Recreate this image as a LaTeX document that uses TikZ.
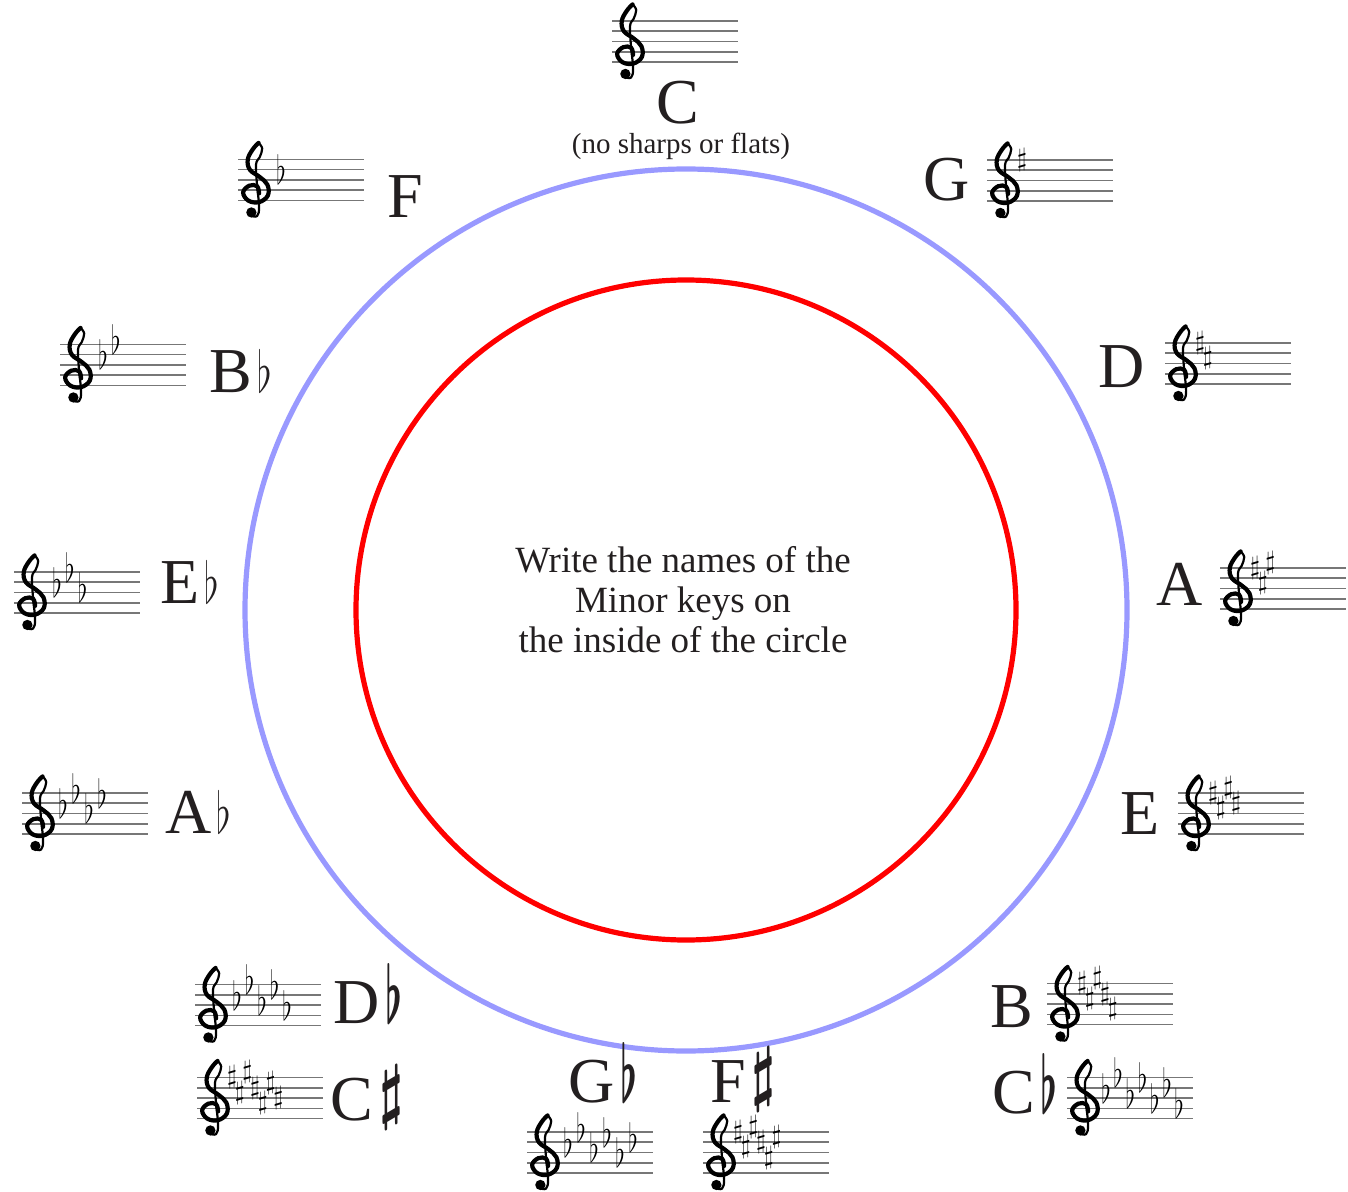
\RequirePackage{fix-cm}
\documentclass[tikz,border=0pt]{standalone}
\usepackage{fontspec}
\setmainfont{Liberation Serif}
\usepackage{amsmath}
\usepackage{bm}
\usepackage{graphicx}
\usetikzlibrary{calc}

\definecolor{ringblue}{HTML}{9999FF}
\definecolor{ringred}{HTML}{FF0000}
\definecolor{inkgray}{HTML}{231F20}
\definecolor{linegray}{HTML}{777777}

\newcommand{\thinflat}{\hspace{2.5pt}\scalebox{0.6}[0.9]{$\flat$}}
\newcommand{\boldflat}{\hspace{3pt}{\fontsize{40}{40}\selectfont\scalebox{0.48}[1]{$\bm{\flat}$}}}
\newcommand{\boldsharp}{\hspace{3pt}{\fontsize{36}{36}\selectfont\raisebox{2.5pt}{\scalebox{0.75}[1]{$\bm{\sharp}$}}}}
\newcommand{\sigflat}{\scalebox{0.62}[1]{$\flat$}}

\begin{document}
\begin{tikzpicture}[x=0.5pt, y=-0.5pt,
  staffline/.style={draw=linegray, line width=0.8pt},
  keyname/.style={anchor=base, inner sep=0pt, text=inkgray,
                  font=\fontsize{32}{32}\selectfont},
  shp/.style={inner sep=0pt, anchor=center, font=\fontsize{13}{13}\selectfont},
  flt/.style={inner sep=0pt, anchor=base, font=\fontsize{20}{20}\selectfont},
  ring/.style={line width=2.6pt},
  clef/.pic={
    \begin{scope}[x=5.15pt, y=5.15pt]
      \draw[line width=2.1pt, line cap=round] plot[smooth, tension=0.65] coordinates
        {(0.35,-0.3) (0.15,0.4) (-0.6,0.45) (-1.2,-0.2) (-0.7,-1.0) (0.35,-1.15)
         (1.2,-0.5) (1.15,0.55) (0.4,1.3) (-0.55,2.0) (-0.75,3.0) (-0.25,4.0) (0.3,4.6)};
      \draw[line width=1.1pt, line cap=round] plot[smooth, tension=0.65] coordinates
        {(0.3,4.6) (0.65,4.05) (0.4,3.2) (0.05,2.5) (0.15,0.5) (0.35,-1.6) (0.15,-2.5) (-0.45,-2.45)};
      \fill (-0.4,-2.15) circle[radius=0.5];
    \end{scope}
  },
  staff/.pic={
    \foreach \k in {-2,...,2}
      \draw[staffline] (0,10.3*\k) -- (126,10.3*\k);
    \pic at (17.5,10.3) {clef};
  }
]
\useasboundingbox (0,0) rectangle (1348,1192);

% Rings
\coordinate (ctr) at (686,610);
\draw[ring, ringblue] (ctr) circle[radius=441];
\draw[ring, ringred] (ctr) circle[radius=330];

% Centre text
\node[align=center, text=inkgray, font=\fontsize{18.5}{20}\selectfont] (msg) at (683,600)
  {Write the names of the\\Minor keys on\\the inside of the circle};

% C major
\pic (stC) at (612,41.5) {staff};
\node[keyname] (kC) at (678,124) {C};
\node[anchor=base, text=inkgray, font=\fontsize{14.5}{14.5}\selectfont] (nosf) at (681,154)
  {(no sharps or flats)};

% Sharp keys
\begin{scope}[shift={(987,180.5)}]
  \pic (stG) {staff};
  \foreach \s [count=\i from 0] in {4}
    \node[shp] (shG\i) at (35+7.7*\i, -5.15*\s) {$\sharp$};
\end{scope}
\node[keyname] (kG) at (947,201) {G};

\begin{scope}[shift={(1165,363.5)}]
  \pic (stD) {staff};
  \foreach \s [count=\i from 0] in {4,1}
    \node[shp] (shD\i) at (35+7.7*\i, -5.15*\s) {$\sharp$};
\end{scope}
\node[keyname] (kD) at (1122,387) {D};

\begin{scope}[shift={(1220,588.5)}]
  \pic (stA) {staff};
  \foreach \s [count=\i from 0] in {4,1,5}
    \node[shp] (shA\i) at (35+7.7*\i, -5.15*\s) {$\sharp$};
\end{scope}
\node[keyname] (kA) at (1180,605) {A};

\begin{scope}[shift={(1178,813.5)}]
  \pic (stE) {staff};
  \foreach \s [count=\i from 0] in {4,1,5,2}
    \node[shp] (shE\i) at (35+7.7*\i, -5.15*\s) {$\sharp$};
\end{scope}
\node[keyname] (kE) at (1140,834) {E};

\begin{scope}[shift={(1047,1004)}]
  \pic (stB) {staff};
  \foreach \s [count=\i from 0] in {4,1,5,2,-1}
    \node[shp] (shB\i) at (35+7.7*\i, -5.15*\s) {$\sharp$};
\end{scope}
\node[keyname] (kB) at (1012,1027) {B};

\begin{scope}[shift={(703,1152.5)}]
  \pic (stFs) {staff};
  \foreach \s [count=\i from 0] in {4,1,5,2,-1,3}
    \node[shp] (shFs\i) at (35+7.7*\i, -5.15*\s) {$\sharp$};
\end{scope}
\node[keyname] (kFs) at (743,1102) {F\boldsharp};

\begin{scope}[shift={(197,1098)}]
  \pic (stCs) {staff};
  \foreach \s [count=\i from 0] in {4,1,5,2,-1,3,0}
    \node[shp] (shCs\i) at (35+7.7*\i, -5.15*\s) {$\sharp$};
\end{scope}
\node[keyname] (kCs) at (367,1120) {C\boldsharp};

% Flat keys
\begin{scope}[shift={(238,180)}]
  \pic (stF) {staff};
  \foreach \s [count=\i from 0] in {0}
    \node[flt] (flF\i) at (43+12.8*\i, -5.15*\s+5) {\sigflat};
\end{scope}
\node[keyname] (kF) at (405,218) {F};

\begin{scope}[shift={(60,365)}]
  \pic (stBb) {staff};
  \foreach \s [count=\i from 0] in {0,3}
    \node[flt] (flBb\i) at (43+12.8*\i, -5.15*\s+5) {\sigflat};
\end{scope}
\node[keyname] (kBb) at (241,393) {B\thinflat};

\begin{scope}[shift={(14,592.5)}]
  \pic (stEb) {staff};
  \foreach \s [count=\i from 0] in {0,3,-1}
    \node[flt] (flEb\i) at (43+12.8*\i, -5.15*\s+5) {\sigflat};
\end{scope}
\node[keyname] (kEb) at (190,603) {E\thinflat};

\begin{scope}[shift={(22,813.5)}]
  \pic (stAb) {staff};
  \foreach \s [count=\i from 0] in {0,3,-1,2}
    \node[flt] (flAb\i) at (41+13*\i, -5.15*\s+5) {\sigflat};
\end{scope}
\node[keyname] (kAb) at (198,833) {A\thinflat};

\begin{scope}[shift={(195,1005)}]
  \pic (stDb) {staff};
  \foreach \s [count=\i from 0] in {0,3,-1,2,-2}
    \node[flt] (flDb\i) at (42+12.5*\i, -5.15*\s+5) {\sigflat};
\end{scope}
\node[keyname] (kDb) at (368,1023) {D\boldflat};

\begin{scope}[shift={(527,1152.5)}]
  \pic (stGb) {staff};
  \foreach \s [count=\i from 0] in {0,3,-1,2,-2,1}
    \node[flt] (flGb\i) at (41+13*\i, -5.15*\s+5) {\sigflat};
\end{scope}
\node[keyname] (kGb) at (603,1102) {G\boldflat};

\begin{scope}[shift={(1067,1098)}]
  \pic (stCb) {staff};
  \foreach \s [count=\i from 0] in {0,3,-1,2,-2,1,-3}
    \node[flt] (flCb\i) at (39+12.2*\i, -5.15*\s+5) {\sigflat};
\end{scope}
\node[keyname] (kCb) at (1025,1113) {C\boldflat};
\end{tikzpicture}
\end{document}
